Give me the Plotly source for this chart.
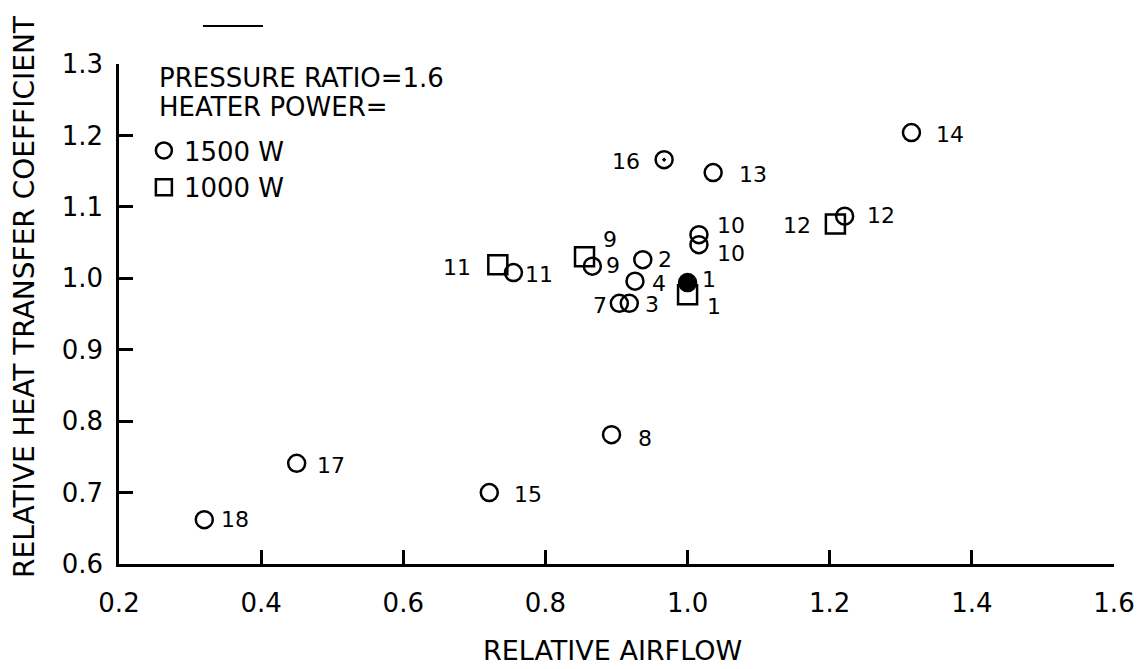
import plotly.graph_objects as go

# ---- data ----
run_1500 = ["14", "16", "13", "10", "10", "2", "9", "4", "3", "7", "1", "11", "12", "8", "15", "17", "18"]
airflow_1500 = [1.315, 0.967, 1.036, 1.016, 1.016, 0.937, 0.866, 0.926, 0.918, 0.904, 1.0, 0.755, 1.221, 0.893, 0.721, 0.450, 0.320]
htc_1500 = [1.204, 1.166, 1.148, 1.061, 1.047, 1.026, 1.017, 0.996, 0.965, 0.965, 0.994, 1.008, 1.087, 0.781, 0.700, 0.741, 0.662]

run_1000 = ["9", "11", "1", "12"]
airflow_1000 = [0.855, 0.733, 1.0, 1.208]
htc_1000 = [1.030, 1.019, 0.977, 1.076]

x_ticks = [0.2, 0.4, 0.6, 0.8, 1.0, 1.2, 1.4, 1.6]
x_ticktext = ["0.2", "0.4", "0.6", "0.8", "1.0", "1.2", "1.4", "1.6"]
y_ticks = [0.6, 0.7, 0.8, 0.9, 1.0, 1.1, 1.2, 1.3]
y_ticktext = ["0.6", "0.7", "0.8", "0.9", "1.0", "1.1", "1.2", "1.3"]

# ---- styles ----
FONT = "DejaVu Sans, Liberation Sans, Arial, sans-serif"
special_symbol = {"16": "circle-open-dot", "1": "circle"}
sym_1500 = [special_symbol.get(r, "circle-open") for r in run_1500]
# label offsets in pixels (dx right, dy down)
off_1500 = [(39, 2), (-38, 2), (40, 2), (32, -9), (32, 9), (22, 0), (21, -1), (24, 2), (23, 1),
            (-19, 2), (21, -3), (26, 2), (36, -1), (33, 4), (39, 2), (34, 2), (31, 0)]
off_1000 = [(25, -17), (-41, 3), (26, 12), (-38, 1)]

fig = go.Figure()
fig.add_trace(go.Scatter(
    x=airflow_1500, y=htc_1500, mode="markers", name="1500 W",
    marker=dict(symbol=sym_1500, size=17, color="black", line=dict(width=2.5, color="black")),
))
fig.add_trace(go.Scatter(
    x=airflow_1000, y=htc_1000, mode="markers", name="1000 W",
    marker=dict(symbol="square-open", size=19, color="black", line=dict(width=2.5, color="black")),
))

annotations = []
for xv, yv, lab, (dx, dy) in zip(airflow_1500, htc_1500, run_1500, off_1500):
    annotations.append(dict(x=xv, y=yv, text=lab, showarrow=False, xshift=dx, yshift=-dy,
                            font=dict(family=FONT, size=22, color="black")))
for xv, yv, lab, (dx, dy) in zip(airflow_1000, htc_1000, run_1000, off_1000):
    annotations.append(dict(x=xv, y=yv, text=lab, showarrow=False, xshift=dx, yshift=-dy,
                            font=dict(family=FONT, size=22, color="black")))

# legend heading lines
annotations.append(dict(xref="paper", yref="paper", x=0.038, y=0.972, text="PRESSURE RATIO=1.6",
                         showarrow=False, xanchor="left", yanchor="middle",
                         font=dict(family=FONT, size=26, color="black")))
annotations.append(dict(xref="paper", yref="paper", x=0.038, y=0.914, text="HEATER POWER=",
                         showarrow=False, xanchor="left", yanchor="middle",
                         font=dict(family=FONT, size=26, color="black")))

# axis titles
annotations.append(dict(xref="paper", yref="paper", x=0.496, y=-0.172, text="RELATIVE AIRFLOW",
                         showarrow=False, xanchor="center", yanchor="middle",
                         font=dict(family=FONT, size=27, color="black")))
annotations.append(dict(xref="paper", yref="paper", x=-0.0955, y=0.536,
                         text="RELATIVE HEAT TRANSFER COEFFICIENT", textangle=-90,
                         showarrow=False, xanchor="center", yanchor="middle",
                         font=dict(family=FONT, size=28, color="black")))

fig.update_layout(
    width=1139, height=661, autosize=False,
    margin=dict(l=111, r=33, t=56, b=105),
    paper_bgcolor="white", plot_bgcolor="white",
    font=dict(family=FONT, color="black"),
    showlegend=True,
    legend=dict(
        x=0.025, y=0.874, xanchor="left", yanchor="top",
        bgcolor="rgba(0,0,0,0)",
        font=dict(family=FONT, size=26, color="black"),
        itemsizing="trace",
    ),
    annotations=annotations,
    shapes=[dict(type="line", xref="paper", yref="paper", x0=0.0844, x1=0.1447, y0=1.076, y1=1.076,
                 line=dict(color="black", width=2))],
)
fig.update_xaxes(
    range=[0.2, 1.6], tickvals=x_ticks, ticktext=x_ticktext,
    showgrid=False, zeroline=False, showline=True, linecolor="black", linewidth=2.5,
    ticks="inside", ticklen=14, tickwidth=2.5, tickcolor="black",
    tickfont=dict(family=FONT, size=26, color="black"), ticklabelstandoff=14,
)
fig.update_yaxes(
    range=[0.6, 1.3], tickvals=y_ticks, ticktext=y_ticktext,
    showgrid=False, zeroline=False, showline=True, linecolor="black", linewidth=2.5,
    ticks="inside", ticklen=14, tickwidth=2.5, tickcolor="black",
    tickfont=dict(family=FONT, size=26, color="black"), ticklabelstandoff=8,
)

fig.write_html("out.html")
